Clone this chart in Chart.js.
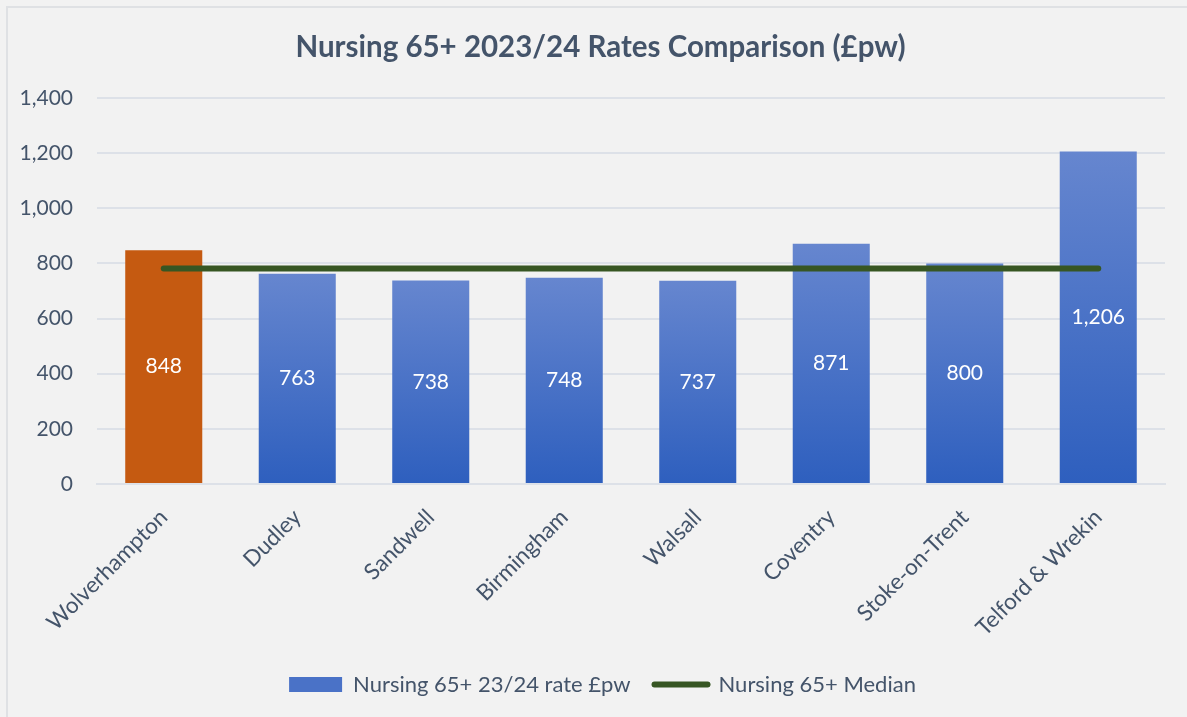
<!DOCTYPE html>
<html>
<head>
<meta charset="utf-8">
<script src="https://cdn.jsdelivr.net/npm/chart.js@4.4.0/dist/chart.umd.min.js"></script>
<style>
  html, body { margin: 0; padding: 0; background: #f2f2f2; overflow: hidden; }
  #wrap { position: relative; width: 1187px; height: 717px; }
  #frame { position: absolute; left: 6px; top: 6px; width: 1200px; height: 730px; border: 2px solid #dfe1e4; box-sizing: border-box; }
  canvas { position: absolute; left: 0; top: 0; }
</style>
</head>
<body>
<div id="wrap">
  <div id="frame"></div>
  <canvas id="chart" width="1187" height="717"></canvas>
</div>
<script>
const councils = [
  "Wolverhampton",
  "Dudley",
  "Sandwell",
  "Birmingham",
  "Walsall",
  "Coventry",
  "Stoke-on-Trent",
  "Telford & Wrekin",
];
const rates = [848, 763, 738, 748, 737, 871, 800, 1206];
const median = [781.5, 781.5, 781.5, 781.5, 781.5, 781.5, 781.5, 781.5];
const yTicks = [0, 200, 400, 600, 800, 1000, 1200, 1400];

const barLabel = "Nursing 65+ 23/24 rate £pw";
const lineLabel = "Nursing 65+ Median";
const titleText = "Nursing 65+ 2023/24 Rates Comparison (£pw)";

const textColor = "#44546a";
const fontFamily = "Lato, 'Open Sans', sans-serif";
const orange = "#c55a11";
const green = "#375623";
const blueTop = "#6686cf";
const blueBottom = "#2e5fbe";

function barColor(context) {
  if (context.dataIndex === 0) return orange;
  const chart = context.chart;
  if (!chart.chartArea) return blueBottom;
  const y = chart.scales.y;
  const top = y.getPixelForValue(rates[context.dataIndex]);
  const base = y.getPixelForValue(0);
  const grad = chart.ctx.createLinearGradient(0, top, 0, base);
  grad.addColorStop(0, blueTop);
  grad.addColorStop(1, blueBottom);
  return grad;
}

// white value labels in the middle of each bar
const barValueLabels = {
  id: "barValueLabels",
  afterDatasetsDraw(chart) {
    const meta = chart.getDatasetMeta(0);
    const ctx = chart.ctx;
    ctx.save();
    ctx.fillStyle = "#ffffff";
    ctx.font = "21px " + fontFamily;
    ctx.textAlign = "center";
    ctx.textBaseline = "middle";
    meta.data.forEach((bar, i) => {
      ctx.fillText(rates[i].toLocaleString("en-US"), bar.x, (bar.y + bar.base) / 2);
    });
    ctx.restore();
  },
};

// title and legend sit a little right of the canvas centre in the original
const nudgeBlocks = {
  id: "nudgeBlocks",
  afterLayout(chart) {
    if (chart.titleBlock) chart.titleBlock.left += 36;
    if (chart.legend) chart.legend.left += 40;
  },
};

new Chart(document.getElementById("chart"), {
  type: "bar",
  data: {
    labels: councils,
    datasets: [
      {
        label: barLabel,
        data: rates,
        backgroundColor: barColor,
        categoryPercentage: 1,
        barPercentage: 0.577,
        order: 1,
      },
      {
        type: "line",
        label: lineLabel,
        data: median,
        borderColor: green,
        borderWidth: 6,
        borderCapStyle: "round",
        pointRadius: 0,
        pointHoverRadius: 0,
        order: 0,
      },
    ],
  },
  options: {
    responsive: false,
    animation: false,
    layout: {
      padding: { left: 0, right: 22, top: 0, bottom: 11.5 },
    },
    plugins: {
      title: {
        display: true,
        text: titleText,
        color: textColor,
        font: { family: fontFamily, size: 29.5, weight: "bold", lineHeight: 1.2 },
        padding: { top: 30, bottom: 32.6 },
      },
      legend: {
        position: "bottom",
        labels: {
          color: textColor,
          font: { family: fontFamily, size: 22 },
          usePointStyle: true,
          pointStyleWidth: 53,
          boxWidth: 53,
          boxHeight: 15,
          padding: 24,
          generateLabels: () => [
            {
              text: barLabel,
              fillStyle: "#4a72c7",
              strokeStyle: "rgba(0,0,0,0)",
              lineWidth: 0,
              pointStyle: "rect",
              fontColor: textColor,
              datasetIndex: 0,
            },
            {
              text: lineLabel,
              fillStyle: "rgba(0,0,0,0)",
              strokeStyle: green,
              lineWidth: 6,
              lineCap: "round",
              pointStyle: "line",
              fontColor: textColor,
              datasetIndex: 1,
            },
          ],
        },
      },
      tooltip: { enabled: false },
    },
    scales: {
      x: {
        grid: { display: false, drawTicks: false },
        border: { display: true, color: "#dde1e8", width: 2 },
        ticks: {
          color: textColor,
          font: { family: fontFamily, size: 22.5 },
          minRotation: 45,
          maxRotation: 45,
          padding: 20,
          autoSkip: false,
        },
        afterFit(scale) {
          scale.height = 165.5;
        },
      },
      y: {
        min: 0,
        max: 1400,
        afterBuildTicks(scale) {
          scale.ticks = yTicks.map((v) => ({ value: v }));
        },
        grid: { color: "#dde1e8", lineWidth: 2, drawTicks: false },
        border: { display: false },
        ticks: {
          color: textColor,
          font: { family: fontFamily, size: 21 },
          padding: 24,
          callback: (v) => v.toLocaleString("en-US"),
        },
        afterFit(scale) {
          scale.width = 97;
        },
      },
    },
  },
  plugins: [barValueLabels, nudgeBlocks],
});
</script>
</body>
</html>
